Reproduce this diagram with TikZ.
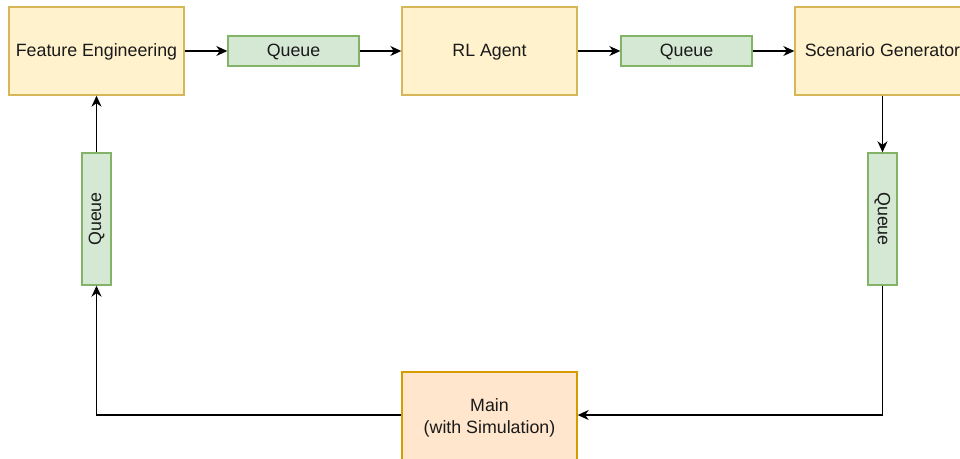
\documentclass[tikz,border=0pt]{standalone}
\usepackage{fontspec}
\setmainfont{Liberation Sans}
\usetikzlibrary{arrows.meta}
\definecolor{stageFill}{HTML}{FFF2CC}
\definecolor{stageLine}{HTML}{D6B656}
\definecolor{queueFill}{HTML}{D5E8D4}
\definecolor{queueLine}{HTML}{82B366}
\definecolor{mainFill}{HTML}{FFE6CC}
\definecolor{mainLine}{HTML}{D79B00}
\definecolor{ink}{HTML}{1A1A1A}
\tikzset{
  base/.style={draw, line width=1.4pt, font=\fontsize{17.8}{22}\selectfont, text=ink, inner sep=0pt, align=center},
  oneline/.style={text height=14pt, text depth=3pt},
  stage/.style={base, oneline, fill=stageFill, draw=stageLine, minimum width=175pt, minimum height=88pt},
  mainbox/.style={base, fill=mainFill, draw=mainLine, minimum width=175pt, minimum height=92pt},
  queueh/.style={base, oneline, fill=queueFill, draw=queueLine, minimum width=131pt, minimum height=30pt},
  queuev/.style={base, fill=queueFill, draw=queueLine, minimum width=29pt, minimum height=132pt},
  flow/.style={line width=1.3pt, draw=black, -{Stealth[length=11pt, width=10pt, inset=3.5pt]}}
}
\begin{document}
\begin{tikzpicture}[x=1pt, y=-1pt]
  \useasboundingbox (0,0) rectangle (960,458);
  \clip (0,0) rectangle (960,458);
  \fill[white] (0,0) rectangle (960,458);

  % processing stages along the top row
  \node[stage] (fe) at (96.5,51) {Feature Engineering};
  \node[queueh] (q1) at (293.5,51) {Queue};
  \node[stage] (rl) at (489.5,51) {RL Agent};
  \node[queueh] (q2) at (686.5,51) {Queue};
  \node[stage] (sg) at (882.5,51) {Scenario Generator};

  % vertical queues on the sides
  \node[queuev] (rq) at (882.5,219) {\rotatebox{-90}{Queue}};
  \node[queuev] (lq) at (96.5,219) {\rotatebox{90}{Queue}};

  % simulation loop at the bottom
  \node[mainbox] (main) at (489.5,418) {Main\\(with Simulation)};

  % data flow
  \draw[flow] (fe.east) -- (q1.west);
  \draw[flow] (q1.east) -- (rl.west);
  \draw[flow] (rl.east) -- (q2.west);
  \draw[flow] (q2.east) -- (sg.west);
  \draw[flow] (sg.south) -- (rq.north);
  \draw[flow] (rq.south) |- ([yshift=3pt]main.east);
  \draw[flow] ([yshift=3pt]main.west) -| (lq.south);
  \draw[flow] (lq.north) -- (fe.south);
\end{tikzpicture}
\end{document}
